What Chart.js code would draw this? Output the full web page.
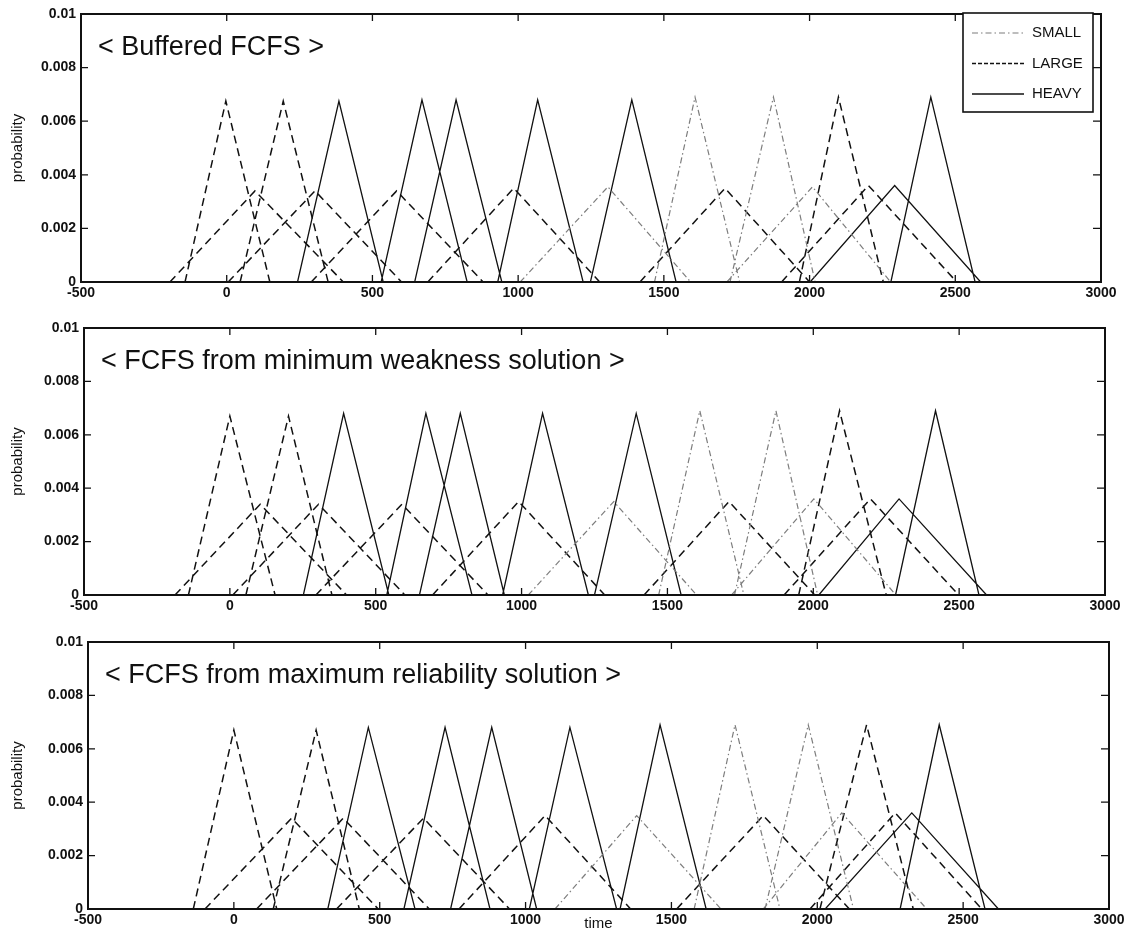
<!DOCTYPE html>
<html>
<head>
<meta charset="utf-8">
<script src="https://cdn.jsdelivr.net/npm/chart.js@4.4.1/dist/chart.umd.min.js"></script>
<style>
  body { margin: 0; background: #fff; }
  .panel { position: absolute; left: 0; }
</style>
</head>
<body>
<div class="panel" style="top:0px"><canvas id="c1" width="1134" height="310"></canvas></div>
<div class="panel" style="top:314px"><canvas id="c2" width="1134" height="310"></canvas></div>
<div class="panel" style="top:628px"><canvas id="c3" width="1134" height="306"></canvas></div>
<script>
const xTicks = [-500, 0, 500, 1000, 1500, 2000, 2500, 3000];
const yTicks = [0, 0.002, 0.004, 0.006, 0.008, 0.01];
const jobTypes = ['SMALL', 'LARGE', 'HEAVY'];
const panelTitles = [
  '< Buffered FCFS >',
  '< FCFS from minimum weakness solution >',
  '< FCFS from maximum reliability solution >'
];

// triangular distributions: [start, mode, end, peak probability]
const bufferedSmall = [
  [1007, 1308, 1592, 0.00355],
  [1468, 1607, 1760, 0.0069],
  [1727, 1876, 2019, 0.0069],
  [1716, 2010, 2278, 0.00355]
];
const bufferedLarge = [
  [-143, -3, 148, 0.00675],
  [-195, 97, 400, 0.0034],
  [46, 194, 348, 0.00675],
  [5, 303, 600, 0.0034],
  [290, 583, 880, 0.0034],
  [690, 985, 1280, 0.0035],
  [1418, 1710, 2000, 0.0035],
  [1965, 2099, 2253, 0.0069],
  [1904, 2202, 2505, 0.0036]
];
const bufferedHeavy = [
  [243, 385, 537, 0.00675],
  [530, 670, 825, 0.0068],
  [645, 787, 944, 0.0068],
  [930, 1067, 1223, 0.0068],
  [1248, 1390, 1542, 0.0068],
  [2002, 2292, 2587, 0.0036],
  [2279, 2416, 2568, 0.0069]
];

const minWeakSmall = [
  [1023, 1316, 1600, 0.0035],
  [1470, 1611, 1762, 0.0069],
  [1730, 1872, 2015, 0.0069],
  [1720, 2002, 2283, 0.0036]
];
const minWeakLarge = [
  [-142, 0, 155, 0.0067],
  [-188, 104, 400, 0.0034],
  [55, 201, 350, 0.0067],
  [10, 304, 600, 0.0034],
  [295, 590, 885, 0.0034],
  [695, 990, 1285, 0.0035],
  [1420, 1711, 2005, 0.0035],
  [1950, 2090, 2250, 0.0069],
  [1900, 2196, 2498, 0.0036]
];
const minWeakHeavy = [
  [252, 390, 545, 0.0068],
  [538, 672, 830, 0.0068],
  [650, 790, 941, 0.0068],
  [935, 1072, 1229, 0.0068],
  [1250, 1393, 1547, 0.0068],
  [2019, 2294, 2594, 0.0036],
  [2282, 2419, 2568, 0.0069]
];

const maxRelSmall = [
  [1101, 1381, 1670, 0.0035],
  [1578, 1718, 1872, 0.0069],
  [1821, 1969, 2124, 0.0069],
  [1815, 2084, 2375, 0.0036]
];
const maxRelLarge = [
  [-139, 0, 147, 0.0067],
  [-99, 198, 495, 0.0034],
  [135, 282, 430, 0.0067],
  [78, 375, 670, 0.0034],
  [352, 650, 945, 0.0034],
  [772, 1067, 1360, 0.0035],
  [1518, 1815, 2110, 0.0035],
  [2009, 2169, 2329, 0.0069],
  [1975, 2267, 2564, 0.0036]
];
const maxRelHeavy = [
  [322, 461, 621, 0.0068],
  [583, 724, 878, 0.0068],
  [743, 884, 1038, 0.0068],
  [1013, 1152, 1312, 0.0068],
  [1324, 1461, 1619, 0.0069],
  [2027, 2324, 2621, 0.0036],
  [2284, 2418, 2575, 0.0069]
];

const panelData = [
  { SMALL: bufferedSmall, LARGE: bufferedLarge, HEAVY: bufferedHeavy },
  { SMALL: minWeakSmall, LARGE: minWeakLarge, HEAVY: minWeakHeavy },
  { SMALL: maxRelSmall, LARGE: maxRelLarge, HEAVY: maxRelHeavy }
];

const lineStyle = {
  SMALL: { borderColor: '#7d7d7d', borderWidth: 1.2, borderDash: [6, 3, 1.5, 3] },
  LARGE: { borderColor: '#111', borderWidth: 1.5, borderDash: [8, 5] },
  HEAVY: { borderColor: '#111', borderWidth: 1.3, borderDash: [] }
};

// plot box of each panel inside its canvas
const layouts = [
  { canvas: 'c1', left: 81, right: 1101, top: 14, axisHeight: 28, legend: true, xTitle: false },
  { canvas: 'c2', left: 84, right: 1105, top: 14, axisHeight: 29, legend: false, xTitle: false },
  { canvas: 'c3', left: 88, right: 1109, top: 14, axisHeight: 25, legend: false, xTitle: true }
];

const FONT = '"Liberation Sans", Arial, Helvetica, sans-serif';

function triangles(list) {
  const pts = [];
  list.forEach(([a, m, b, h]) => {
    pts.push({ x: a, y: 0 }, { x: m, y: h }, { x: b, y: 0 }, { x: b, y: null });
  });
  return pts;
}

// box, inward ticks, in-plot caption and legend
const framePlugin = {
  id: 'frame',
  afterDraw(chart, args, opts) {
    const { ctx, chartArea: a, scales } = chart;
    ctx.save();
    ctx.strokeStyle = '#111';
    ctx.lineWidth = 1.3;
    ctx.beginPath();
    xTicks.forEach(v => {
      const px = scales.x.getPixelForValue(v);
      ctx.moveTo(px, a.bottom); ctx.lineTo(px, a.bottom - 7);
      ctx.moveTo(px, a.top); ctx.lineTo(px, a.top + 7);
    });
    yTicks.forEach(v => {
      const py = scales.y.getPixelForValue(v);
      ctx.moveTo(a.left, py); ctx.lineTo(a.left + 7, py);
      ctx.moveTo(a.right, py); ctx.lineTo(a.right - 8, py);
    });
    ctx.stroke();
    ctx.lineWidth = 2;
    ctx.strokeRect(a.left, a.top, a.right - a.left, a.bottom - a.top);

    ctx.fillStyle = '#111';
    ctx.font = '27px ' + FONT;
    ctx.textBaseline = 'alphabetic';
    ctx.fillText(opts.caption, a.left + 17, a.top + 41);

    if (opts.legend) {
      const bw = 130, bh = 99;
      const bx = a.right - bw - 8, by = a.top - 1;
      ctx.fillStyle = '#fff';
      ctx.fillRect(bx, by, bw, bh);
      ctx.lineWidth = 1.6;
      ctx.strokeRect(bx, by, bw, bh);
      ctx.font = '15px ' + FONT;
      ctx.textBaseline = 'middle';
      jobTypes.forEach((t, i) => {
        const s = lineStyle[t];
        const ly = by + 20 + i * 30.5;
        ctx.strokeStyle = s.borderColor;
        ctx.lineWidth = s.borderWidth;
        ctx.setLineDash(t === 'LARGE' ? [4, 2] : s.borderDash);
        ctx.beginPath();
        ctx.moveTo(bx + 9, ly); ctx.lineTo(bx + 61, ly);
        ctx.stroke();
        ctx.setLineDash([]);
        ctx.fillStyle = '#111';
        ctx.fillText(t, bx + 69, ly);
      });
    }
    ctx.restore();
  }
};

layouts.forEach((lay, i) => {
  const datasets = jobTypes.map(t => Object.assign({
    label: t,
    data: triangles(panelData[i][t]),
    pointRadius: 0,
    tension: 0,
    fill: false,
    spanGaps: false
  }, lineStyle[t]));

  new Chart(document.getElementById(lay.canvas), {
    type: 'line',
    data: { datasets },
    options: {
      responsive: false,
      animation: false,
      layout: { padding: { top: lay.top, right: 1134 - lay.right, left: 0, bottom: 0 } },
      plugins: {
        legend: { display: false },
        tooltip: { enabled: false },
        frame: { caption: panelTitles[i], legend: lay.legend }
      },
      scales: {
        x: {
          type: 'linear',
          min: -500,
          max: 3000,
          afterBuildTicks: s => { s.ticks = xTicks.map(v => ({ value: v })); },
          afterFit: s => { s.height = lay.axisHeight; },
          grid: { display: false, drawTicks: false },
          border: { display: false },
          ticks: {
            color: '#111', padding: 3, maxRotation: 0, autoSkip: false,
            font: { family: FONT, size: 14, weight: 'bold' },
            callback: v => String(v)
          },
          title: { display: lay.xTitle, text: 'time', color: '#111', padding: { top: 0, bottom: 1 }, font: { family: FONT, size: 15 } }
        },
        y: {
          type: 'linear',
          min: 0,
          max: 0.01,
          afterBuildTicks: s => { s.ticks = yTicks.map(v => ({ value: v })); },
          afterFit: s => { s.width = lay.left; },
          grid: { display: false, drawTicks: false },
          border: { display: false },
          ticks: {
            color: '#111', padding: 5,
            font: { family: FONT, size: 14, weight: 'bold' },
            callback: v => String(v)
          },
          title: { display: true, text: 'probability', color: '#111', padding: { top: 9, bottom: 0 }, font: { family: FONT, size: 15 } }
        }
      }
    },
    plugins: [framePlugin]
  });
});
</script>
</body>
</html>
